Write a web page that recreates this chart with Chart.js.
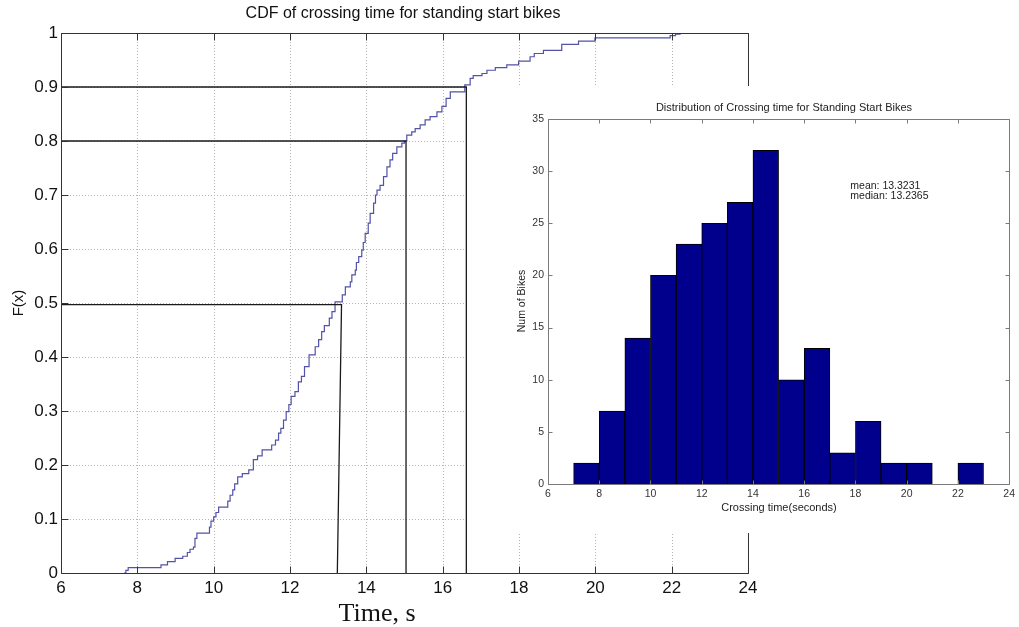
<!DOCTYPE html>
<html>
<head>
<meta charset="utf-8">
<title>CDF of crossing time for standing start bikes</title>
<script src="https://cdn.jsdelivr.net/npm/chart.js@4.4.1/dist/chart.umd.min.js"></script>
<style>
  html, body { margin: 0; padding: 0; background: #fff; }
  #wrap { position: relative; width: 1019px; height: 627px; overflow: hidden; }
  #cdfChart { position: absolute; left: 0; top: 0; }
  #histChart { position: absolute; left: 468px; top: 86px; background: #fff; }
</style>
</head>
<body>
<div id="wrap">
  <canvas id="cdfChart" width="1019" height="627"></canvas>
  <canvas id="histChart" width="551" height="447"></canvas>
</div>
<script>
var cdfTime = [7.65, 7.70, 7.76, 8.62, 8.79, 8.99, 9.19, 9.31, 9.38, 9.47, 9.51, 9.56,
  9.89, 9.93, 10.00, 10.06, 10.13, 10.37, 10.43, 10.50, 10.55, 10.63, 10.75, 10.92,
  11.04, 11.15, 11.27, 11.52, 11.62, 11.70, 11.76, 11.83, 11.90, 11.97, 12.03, 12.13,
  12.22, 12.30, 12.38, 12.50, 12.66, 12.75, 12.83, 12.90, 13.03, 13.10, 13.18, 13.37,
  13.45, 13.58, 13.62, 13.71, 13.74, 13.80, 13.88, 13.92, 13.97, 14.05, 14.10, 14.19,
  14.24, 14.28, 14.36, 14.45, 14.54, 14.62, 14.69, 14.80, 14.93, 15.00, 15.06, 15.19,
  15.28, 15.41, 15.54, 15.67, 15.85, 15.98, 16.09, 16.20, 16.58, 16.72, 16.80, 17.03,
  17.16, 17.38, 17.68, 17.99, 18.29, 18.40, 18.64, 19.12, 19.56, 19.99, 21.96, 22.10, 22.22];
var cdfProb = [0, 0.005, 0.010, 0.015, 0.021, 0.027, 0.031, 0.038, 0.044, 0.048, 0.064, 0.074,
  0.085, 0.096, 0.104, 0.112, 0.122, 0.133, 0.144, 0.154, 0.165, 0.178, 0.184, 0.191,
  0.210, 0.217, 0.228, 0.237, 0.246, 0.259, 0.268, 0.283, 0.299, 0.312, 0.327, 0.336,
  0.354, 0.364, 0.382, 0.404, 0.419, 0.432, 0.447, 0.458, 0.472, 0.484, 0.502, 0.515,
  0.530, 0.539, 0.552, 0.561, 0.575, 0.586, 0.598, 0.612, 0.629, 0.648, 0.666, 0.685,
  0.700, 0.709, 0.718, 0.734, 0.752, 0.765, 0.777, 0.789, 0.796, 0.800, 0.811, 0.817,
  0.823, 0.830, 0.839, 0.845, 0.854, 0.864, 0.879, 0.891, 0.904, 0.916, 0.921, 0.925,
  0.931, 0.936, 0.941, 0.948, 0.956, 0.962, 0.968, 0.979, 0.985, 0.991, 0.995, 0.998, 1.000];

// percentile guide lines (level, time where it meets the curve, time at the axis)
var guideLevels = [0.497, 0.8, 0.9];
var guideTop = [13.35, 15.04, 16.62];
var guideBottom = [13.24, 15.04, 16.62];

var cdfXTicks = [6, 8, 10, 12, 14, 16, 18, 20, 22, 24];
var cdfYTicks = [0, 0.1, 0.2, 0.3, 0.4, 0.5, 0.6, 0.7, 0.8, 0.9, 1];
var cdfYTickLabels = ['0', '0.1', '0.2', '0.3', '0.4', '0.5', '0.6', '0.7', '0.8', '0.9', '1'];

// histogram inset
var binCenters = [7.5, 8.5, 9.5, 10.5, 11.5, 12.5, 13.5, 14.5, 15.5, 16.5, 17.5, 18.5, 19.5, 20.5, 21.5, 22.5];
var binCounts = [2, 7, 14, 20, 23, 25, 27, 32, 10, 13, 3, 6, 2, 2, 0, 2];
var histXTicks = [6, 8, 10, 12, 14, 16, 18, 20, 22, 24];
var histYTicks = [0, 5, 10, 15, 20, 25, 30, 35];
var histStats = ['mean: 13.3231', 'median: 13.2365'];

var SANS = "'Liberation Sans', Arial, Helvetica, sans-serif";
Chart.defaults.font.family = SANS;

function setTicks(list) {
  return function(scale) {
    scale.ticks = list.map(function(v) { return { value: v }; });
  };
}

// matlab style box: dotted grid, four spines, inward tick marks, free text
function axesBox(cfg) {
  return {
    id: 'axesBox',
    beforeDatasetsDraw: function(chart) {
      if (!cfg.grid) return;
      var ctx = chart.ctx, a = chart.chartArea, xs = chart.scales.x, ys = chart.scales.y;
      ctx.save();
      ctx.strokeStyle = cfg.gridColor;
      ctx.lineWidth = 1;
      ctx.setLineDash([1, 2]);
      ctx.beginPath();
      xs.ticks.forEach(function(t) {
        var px = Math.round(xs.getPixelForValue(t.value)) + 0.5;
        if (px > a.left + 2 && px < a.right - 2) { ctx.moveTo(px, a.top); ctx.lineTo(px, a.bottom); }
      });
      ys.ticks.forEach(function(t) {
        var py = Math.round(ys.getPixelForValue(t.value)) + 0.5;
        if (py > a.top + 2 && py < a.bottom - 2) { ctx.moveTo(a.left, py); ctx.lineTo(a.right, py); }
      });
      ctx.stroke();
      ctx.restore();
    },
    afterDatasetsDraw: function(chart) {
      var ctx = chart.ctx, a = chart.chartArea, xs = chart.scales.x, ys = chart.scales.y;
      var L = Math.round(a.left) + 0.5, R = Math.round(a.right) + 0.5;
      var T = Math.round(a.top) + 0.5, B = Math.round(a.bottom) + 0.5;
      var tl = cfg.tickLen;
      ctx.save();
      ctx.strokeStyle = cfg.axisColor;
      ctx.lineWidth = 1;
      ctx.beginPath();
      ctx.rect(L, T, R - L, B - T);
      xs.ticks.forEach(function(t) {
        var px = Math.round(xs.getPixelForValue(t.value)) + 0.5;
        ctx.moveTo(px, B); ctx.lineTo(px, B - tl);
        ctx.moveTo(px, T); ctx.lineTo(px, T + tl);
      });
      ys.ticks.forEach(function(t) {
        var py = Math.round(ys.getPixelForValue(t.value)) + 0.5;
        ctx.moveTo(L, py); ctx.lineTo(L + tl, py);
        ctx.moveTo(R, py); ctx.lineTo(R - tl, py);
      });
      ctx.stroke();
      ctx.restore();
    },
    afterDraw: function(chart) {
      var ctx = chart.ctx;
      ctx.save();
      cfg.texts.forEach(function(t) {
        ctx.save();
        ctx.font = t.font;
        ctx.fillStyle = t.color || '#111';
        ctx.textAlign = t.align || 'center';
        ctx.textBaseline = t.baseline || 'middle';
        var x = t.x, y = t.y;
        if (t.dataX !== undefined) { x = chart.scales.x.getPixelForValue(t.dataX); y = chart.scales.y.getPixelForValue(t.dataY); }
        ctx.translate(x, y);
        if (t.rotate) ctx.rotate(t.rotate);
        ctx.fillText(t.text, 0, 0);
        ctx.restore();
      });
      ctx.restore();
    }
  };
}

// ---------- main CDF chart ----------
var cdfPoints = cdfTime.map(function(t, i) { return { x: t, y: cdfProb[i] }; });

var guideSets = guideLevels.map(function(lvl, i) {
  return {
    data: [{ x: 6, y: lvl }, { x: guideTop[i], y: lvl }, { x: guideBottom[i], y: 0 }],
    borderColor: '#1a1a1a',
    borderWidth: 1.3,
    pointRadius: 0,
    tension: 0,
    fill: false
  };
});

var ctxC = document.getElementById('cdfChart').getContext('2d');
var cdfChart = new Chart(ctxC, {
  type: 'line',
  data: {
    datasets: guideSets.concat([{
      data: cdfPoints,
      borderColor: '#5252a8',
      borderWidth: 1.2,
      pointRadius: 0,
      stepped: 'before',
      fill: false
    }])
  },
  options: {
    responsive: false,
    animation: false,
    devicePixelRatio: 1,
    events: [],
    layout: { padding: { top: 33, right: 271, left: 0, bottom: 0 } },
    plugins: { legend: { display: false }, tooltip: { enabled: false }, title: { display: false } },
    scales: {
      x: {
        type: 'linear', min: 6, max: 24,
        afterBuildTicks: setTicks(cdfXTicks),
        afterFit: function(scale) { scale.height = 54; },
        grid: { display: false, drawTicks: false },
        border: { display: false },
        ticks: { autoSkip: false, maxRotation: 0, padding: 5, color: '#111', font: { size: 17 } }
      },
      y: {
        type: 'linear', min: 0, max: 1,
        afterBuildTicks: setTicks(cdfYTicks),
        afterFit: function(scale) { scale.width = 61; },
        grid: { display: false, drawTicks: false },
        border: { display: false },
        ticks: {
          autoSkip: false, padding: 3, color: '#111', font: { size: 17 },
          callback: function(value, index) { return cdfYTickLabels[index]; }
        }
      }
    }
  },
  plugins: [axesBox({
    grid: true, gridColor: '#b4b4b4', axisColor: '#333', tickLen: 7,
    texts: [
      { text: 'CDF of crossing time for standing start bikes', x: 403, y: 14, font: '16px ' + SANS },
      { text: 'F(x)', x: 19, y: 303, rotate: -Math.PI / 2, font: '15px ' + SANS },
      { text: 'Time, s', x: 377, y: 621, baseline: 'alphabetic', font: '26px "Liberation Serif", "Times New Roman", serif' }
    ]
  })]
});

// ---------- histogram inset ----------
var histPoints = binCenters.map(function(c, i) { return { x: c, y: binCounts[i] }; });

var ctxH = document.getElementById('histChart').getContext('2d');
var histChart = new Chart(ctxH, {
  type: 'bar',
  data: {
    datasets: [{
      data: histPoints,
      backgroundColor: '#00008c',
      borderColor: '#000',
      borderWidth: 1,
      barPercentage: 1,
      categoryPercentage: 1
    }]
  },
  options: {
    responsive: false,
    animation: false,
    devicePixelRatio: 1,
    events: [],
    layout: { padding: { top: 33, right: 7, left: 0, bottom: 0 } },
    plugins: { legend: { display: false }, tooltip: { enabled: false }, title: { display: false } },
    scales: {
      x: {
        type: 'linear', min: 6, max: 24, offset: false,
        afterBuildTicks: setTicks(histXTicks),
        afterFit: function(scale) { scale.height = 49; },
        grid: { display: false, drawTicks: false },
        border: { display: false },
        ticks: { autoSkip: false, maxRotation: 0, padding: 4, color: '#333', font: { size: 10.5 } }
      },
      y: {
        type: 'linear', min: 0, max: 35,
        afterBuildTicks: setTicks(histYTicks),
        afterFit: function(scale) { scale.width = 80; },
        grid: { display: false, drawTicks: false },
        border: { display: false },
        ticks: { autoSkip: false, padding: 4, color: '#333', font: { size: 10.5 } }
      }
    }
  },
  plugins: [axesBox({
    grid: false, axisColor: '#7a7a7a', tickLen: 4,
    texts: [
      { text: 'Distribution of Crossing time for Standing Start Bikes', x: 316, y: 22, font: '11px ' + SANS, color: '#222' },
      { text: 'Num of Bikes', x: 54, y: 215, rotate: -Math.PI / 2, font: '10.5px ' + SANS, color: '#222' },
      { text: 'Crossing time(seconds)', x: 311, y: 422, font: '11px ' + SANS, color: '#222' },
      { text: histStats[0], dataX: 17.8, dataY: 28.6, align: 'left', font: '10.5px ' + SANS, color: '#222' },
      { text: histStats[1], dataX: 17.8, dataY: 27.65, align: 'left', font: '10.5px ' + SANS, color: '#222' }
    ]
  })]
});
</script>
</body>
</html>
